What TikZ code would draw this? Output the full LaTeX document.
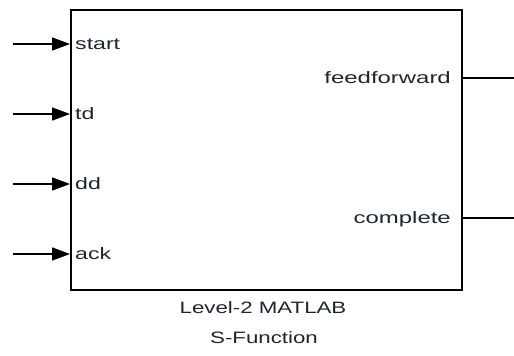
\documentclass[tikz,border=0pt]{standalone}
\usepackage{fontspec}
\setmainfont{Liberation Sans}
\usetikzlibrary{arrows.meta}
\definecolor{txt}{HTML}{1C2630}
\begin{document}
\begin{tikzpicture}[x=1pt,y=-1pt,
  lbl/.style={font=\fontsize{16.5}{18}\selectfont, inner sep=0pt, text=txt},
  wire/.style={line width=1.7pt},
  inwire/.style={wire,-{Triangle[length=18pt,width=13pt]}}]
\useasboundingbox (0,0) rectangle (514,356);
\node[draw, line width=1.9pt, minimum width=391pt, minimum height=280pt, inner sep=0pt, anchor=north west] (blk) at (70,9) {};
% input ports
\coordinate (s1) at (13,44);  \coordinate (i1) at (70,44);
\coordinate (s2) at (13,114); \coordinate (i2) at (70,114);
\coordinate (s3) at (13,184); \coordinate (i3) at (70,184);
\coordinate (s4) at (13,254); \coordinate (i4) at (70,254);
\draw[inwire] (s1) -- (i1);
\draw[inwire] (s2) -- (i2);
\draw[inwire] (s3) -- (i3);
\draw[inwire] (s4) -- (i4);
\node[lbl, anchor=base west] (l1) at (75,49) {\scalebox{1.4}[1]{start}};
\node[lbl, anchor=base west] (l2) at (75,119) {\scalebox{1.4}[1]{td}};
\node[lbl, anchor=base west] (l3) at (75,189) {\scalebox{1.4}[1]{dd}};
\node[lbl, anchor=base west] (l4) at (75,259) {\scalebox{1.4}[1]{ack}};
% output ports
\coordinate (o1) at (461,78);  \coordinate (e1) at (514,78);
\coordinate (o2) at (461,218); \coordinate (e2) at (514,218);
\draw[wire] (o1) -- (e1);
\draw[wire] (o2) -- (e2);
\node[lbl, anchor=base east] (r1) at (451,83) {\scalebox{1.45}[1]{feedforward}};
\node[lbl, anchor=base east] (r2) at (451,223) {\scalebox{1.45}[1]{complete}};
% block name
\node[lbl, anchor=base] (n1) at (263,313) {\scalebox{1.35}[1]{Level-2 MATLAB}};
\node[lbl, anchor=base] (n2) at (264,343) {\scalebox{1.35}[1]{S-Function}};
\end{tikzpicture}
\end{document}
